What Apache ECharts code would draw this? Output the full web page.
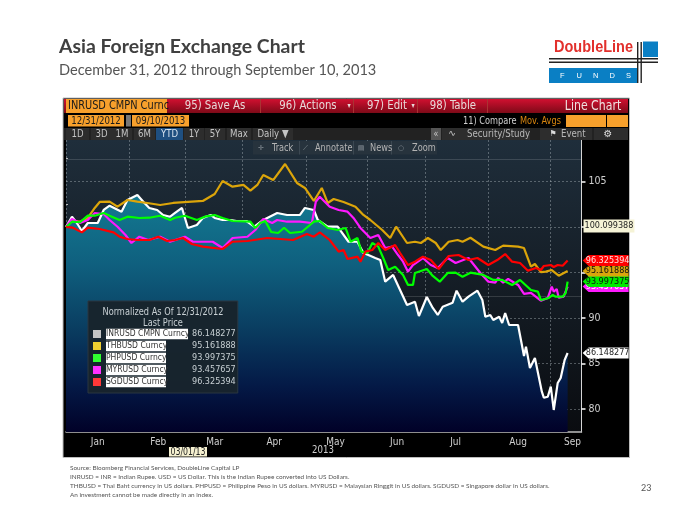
<!DOCTYPE html>
<html><head><meta charset="utf-8">
<style>html,body{margin:0;padding:0;background:#fff}#c{width:700px;height:525px}</style>
<script src="https://cdn.jsdelivr.net/npm/echarts@6/dist/echarts.min.js"></script>
</head><body><div id="c"></div>
<script>
// [days since 12/31/2012, normalized value]
const INR=[[0,100],[3,101.13],[5.5,100.44],[8,99.56],[11,100.44],[16,100.44],[19,101.87],[22,102.34],[28,101.68],[31,102.97],[36,103.52],[39,102.78],[42,102.09],[46,101.87],[49,101.32],[52.5,101.13],[55,101.54],[58.5,102.09],[61.5,99.89],[66,100.22],[69,100.99],[73,101.32],[75,100.99],[79,100.77],[83,100.77],[86,100.66],[91,100.66],[95,100.03],[99.5,100.77],[106.5,101.54],[111.5,101.32],[118,101.32],[120.5,102.09],[125,101.87],[127,100.77],[132,100.03],[137,100.03],[142.5,98.38],[147,98.38],[150,97.14],[152.5,96.92],[156,96.59],[158.5,96.37],[161,93.99],[165,94.73],[168.5,93.08],[172,91.43],[176,91.79],[178,90.22],[182,92.31],[185,91.1],[187.5,90.33],[190,91.24],[195,91.68],[197,93],[200,91.79],[203,92.34],[207.5,93],[210,91.98],[211.5,90.14],[214,90.33],[215.5,89.78],[218.5,90.14],[220,89.45],[221.5,90.55],[223.5,89.23],[228,89.23],[231,85.82],[232,86.85],[234,84.51],[236.5,85.6],[240,81.9],[241,81.24],[243,81.35],[244.5,82.45],[246,79.89],[248,82.86],[249.5,83.41],[251.5,85.38],[253,86.148277]];
const THB=[[0,100],[3,100.66],[7,100.58],[11,100.99],[14.5,102.09],[17,102.75],[22,102.78],[26,102.23],[31,102.97],[36,102.78],[41,102.64],[47.5,102.42],[54,102.64],[61.5,102.75],[69,102.86],[75,103.63],[79,105.05],[84,104.43],[89.5,104.62],[93,103.99],[96.5,104.62],[99.5,105.71],[104.5,105.16],[110.5,106.92],[116.5,104.84],[120.5,104.29],[125,102.86],[129,104.29],[132,102.64],[135,103.08],[140,102.75],[146,102.23],[150,101.32],[153.5,100.77],[159.5,99.67],[163.5,98.79],[166.5,100.03],[172,98.24],[176,98.38],[179,98.24],[182.5,98.79],[186.5,98.24],[189,97.47],[193,98.38],[197.5,98.57],[200,98.38],[204,98.82],[210.5,97.84],[216.5,97.47],[220.5,97.95],[228,97.84],[231,97.69],[234.5,95.64],[236.5,95.93],[239.5,95.05],[242,95.09],[245,95.27],[248.5,94.65],[253,95.161888]];
const PHP=[[0,100],[3,100.58],[7,100.52],[11,101.24],[14.5,101.24],[19,101.54],[22,101.24],[27,100.77],[31,101.13],[37,100.99],[42,101.02],[47.5,101.24],[52.5,100.77],[55,101.02],[60,101.24],[66,100.77],[70,101.13],[75,101.32],[79,100.99],[84,100.66],[93,100.58],[95.5,99.89],[98,100.44],[100.5,100.66],[103.5,99.45],[107,99.34],[110,99.92],[113,99.34],[119,99.48],[122,100.03],[125,100.58],[128,100.66],[132,99.89],[137,99.67],[141,99.89],[143.5,98.38],[147,98.79],[149,97.29],[152,97.14],[154.5,98.24],[157.5,97.84],[160,96.59],[162.5,95.27],[166,95.64],[170,94.73],[172.5,93.63],[175,93.63],[176,94.95],[182,95.38],[185,94.62],[188.5,93.99],[192.5,94.95],[196.5,94.98],[200,94.54],[204,94.98],[210.5,94.73],[215.5,94.18],[220,94.18],[225,93.63],[229,94.18],[234.5,93.08],[238,92.89],[239.5,91.98],[243.5,92.2],[245.5,92.53],[247,92.34],[250.5,92.34],[252,92.75],[253,93.997375]];
const MYR=[[0,100],[3,100.88],[7,100.44],[11,100.77],[14.5,101.54],[19,101.43],[22,100.77],[26,100.03],[30,99.12],[33,98.24],[37,98.93],[41.5,98.57],[47.5,98.93],[52.5,98.38],[60,98.93],[64,98.38],[69,98.38],[74,98.38],[79,97.69],[84,98.79],[91.5,98.93],[95.5,99.67],[99.5,100.88],[104,100.44],[106.5,100.77],[111.5,100.58],[118,100.58],[124,100.44],[126,102.78],[128,103.33],[133,102.23],[137.5,101.87],[142,101.68],[145,100.99],[148.5,99.89],[151,99.34],[153.5,98.79],[157.5,99.12],[161,97.69],[164.5,97.84],[167.5,96.92],[170,96.19],[172.5,95.09],[175,95.82],[180,96.59],[184,95.82],[187.5,95.49],[192.5,96.59],[196.5,96.04],[203,96.59],[209,94.95],[213,93.99],[216.5,93.88],[218,94.4],[220.5,93.88],[223,94.29],[228,93.63],[231,92.64],[234.5,92.75],[239.5,91.9],[243,92.2],[245,93.44],[246,92.89],[247.5,93.19],[248.5,92.23],[251,92.34],[253,93.457657]];
const SGD=[[0,100],[3.5,99.92],[8,99.41],[11,99.92],[17,99.78],[24,99.41],[27,98.93],[31,98.68],[36,98.57],[42,98.57],[46.5,98.93],[51,98.46],[55,98.57],[59,98.79],[63.5,98.13],[69,97.84],[79,97.58],[84,98.38],[91.5,98.46],[101.5,98.79],[108,98.68],[114.5,98.57],[121.5,99.23],[125,98.93],[128,99.41],[133,98.57],[137.5,97.29],[140,97.47],[142,96.48],[147,96.74],[148.5,96.19],[151,97.29],[154.5,97.47],[157.5,98.24],[161,97.47],[166,98.02],[168.5,97.14],[172.5,95.82],[176,96.19],[180,96.74],[184,96.37],[188,95.38],[193,96.81],[198,96.92],[203,96.37],[207.5,96.59],[213,95.82],[217.5,96.37],[221.5,97.03],[225,96.19],[229,96.04],[233,95.2],[237,95.49],[239.5,95.27],[241,95.71],[244.5,95.82],[246,95.6],[248,95.82],[250.5,95.74],[253,96.325394]];
const names=['INRUSD CMPN Curncy','THBUSD Curncy','PHPUSD Curncy','MYRUSD Curncy','SGDUSD Curncy'];
const monthTickDays=[0,32,60,89,121,152,181,213,244];
const monthLabelDays=[16,46.5,75,105,136,167,196.5,228,255.5];
const monthLabels=['Jan','Feb','Mar','Apr','May','Jun','Jul','Aug','Sep'];
const yLabelValues=[80,85,90,100.099388,105];
const yMajorTicks=[80,85,90,95,100,105];
const yMinorTicks=[82.5,87.5,92.5,97.5,102.5,107.5];

const NARROW="'Liberation Sans Narrow','DejaVu Sans Condensed','Liberation Sans',sans-serif";
const tagPath='path://M0,5.5 L6,0 L46,0 L46,11 L6,11 Z';
function mk(name,data,color,z,tagColor,tagText,mz,extra){
  const last=data[data.length-1];
  return Object.assign({
    name,type:'line',data,z,showSymbol:false,symbol:'none',smooth:false,
    lineStyle:{color,width:2.2},itemStyle:{color},animation:false,
    markPoint:{z:mz,silent:true,animation:false,symbol:tagPath,symbolSize:[46,11],symbolOffset:[38,0],
      itemStyle:{color:tagColor},
      label:{show:true,position:'inside',color:tagText,fontSize:9,fontFamily:NARROW,offset:[2,0],formatter:p=>p.value.toFixed(6)},
      data:[{coord:[last[0],last[1]],value:last[1]}]}
  },extra||{});
}
const g=[];
const rect=(x,y,w,h,fill,z)=>g.push({type:'rect',silent:true,z:z==null?1:z,shape:{x,y,width:w,height:h},style:{fill}});
const txt=(x,y,s,fill,size,o,z)=>{
  const isNarrow=!(o&&o.fontFamily);
  g.push({type:'text',silent:true,z:z==null?2:z,x,y,scaleX:isNarrow?0.87:1,style:Object.assign({text:s,fill,fontSize:size,fontFamily:NARROW,verticalAlign:'middle'},o||{})});
};
const vg=(a,b)=>({type:'linear',x:0,y:0,x2:0,y2:1,colorStops:[{offset:0,color:a},{offset:1,color:b}]});
const ct={align:'center'};
const LT='#cfcfcf';
// page titles
txt(59,47,'Asia Foreign Exchange Chart','#404040',19.4,{fontFamily:'Lato',fontWeight:'bold'});
txt(59,70,'December 31, 2012 through September 10, 2013','#555555',14.6,{fontFamily:'Lato'});
// logo
rect(643,41.5,15,15.5,'#0a7fc4');rect(549,68,88,15,'#0a7fc4');
rect(549,58,109,1.4,'#222');rect(549,61.5,109,1.4,'#222');
rect(637,42,1.4,41,'#222');rect(640.5,42,1.4,41,'#222');
g.push({type:'text',silent:true,z:2,x:554,y:47.5,scaleX:0.88,style:{text:'DoubleLine',fill:'#e2302c',fontSize:16.5,fontWeight:'bold',fontFamily:'Liberation Sans',verticalAlign:'middle'}});
['F','U','N','D','S'].forEach((c,i)=>txt(560+i*16.5,75.5,c,'#fff',7.5,{fontFamily:'Liberation Sans'}));
// footnotes
const F={fontFamily:'Lato'};
txt(70,468,'Source: Bloomberg Financial Services, DoubleLine Capital LP','#555',6.4,F);
txt(70,477,'INRUSD = INR = Indian Rupee. USD = US Dollar. This is the Indian Rupee converted into US Dollars.','#555',6.4,F);
txt(70,486,'THBUSD = Thai Baht currency in US dollars. PHPUSD = Philippine Peso in US dollars. MYRUSD = Malaysian Ringgit in US dollars. SGDUSD = Singapore dollar in US dollars.','#555',6.4,F);
txt(70,495,'An investment cannot be made directly in an index.','#555',6.4,F);
txt(641,488,'23','#555',9,F);
// terminal panel
g.push({type:'rect',silent:true,z:-1,shape:{x:63,y:98,width:566.5,height:359.5},style:{fill:'#000',stroke:'#bdbdbd',lineWidth:1}});
// toolbar row 1
rect(64,99,564,14,vg('#d01030','#7d0a18'));
rect(66,99,101,14,'#f7a02c');
txt(68,106,'INRUSD CMPN Curnc','#1a1a1a',12.5);
[260,353,417,487].forEach(x=>rect(x,99,1,14,'#a33'));
txt(215,105.5,'95) Save As','#e8d8d8',13,ct);
txt(308,105.5,'96) Actions','#e8d8d8',13,ct);
txt(349,106,'▾','#e8d8d8',8,ct);
txt(387,105.5,'97) Edit','#e8d8d8',13,ct);
txt(413,106,'▾','#e8d8d8',8,ct);
txt(453,105.5,'98) Table','#e8d8d8',13,ct);
txt(593,106,'Line Chart','#f0e0e0',14,ct);
// row 2
rect(68,115,56,11.5,'#f7a02c');rect(126,115,5,11.5,'#777');rect(132,115,57,11.5,'#f7a02c');
txt(96,121,'12/31/2012','#1a1a1a',11,ct);txt(160.5,121,'09/10/2013','#1a1a1a',11,ct);
txt(463,121,'11) Compare',LT,10.5);
txt(520,121,'Mov. Avgs','#d9860f',10.5);
rect(566,115,40,12,'#f7a02c');rect(607,115,21,12,'#f7a02c');
// row 3
rect(64,128,564,12,'#222');
[['1D',66,24],['3D',91,22],['1M',112,21],['6M',134,22],['1Y',184,21],['5Y',205,21],['Max',227,25],['Daily ▼',253,41]].forEach(b=>{
  rect(b[1],128,b[2]-1,12,'#2d2d2d');txt(b[1]+(b[2]-1)/2,134.5,b[0],'#c4c4c4',11,ct);});
rect(156,128,27,12,'#1f4f80');txt(169.5,134.5,'YTD','#d8e4f0',11,ct);
rect(431,128,10,12,'#555');txt(436,134,'«','#ccc',10,ct);
rect(442,128,88,12,'#2d2d2d');rect(540,128,52,12,'#2d2d2d');rect(594,128,34,12,'#2d2d2d');
txt(452,134,'∿',LT,9,Object.assign({fontFamily:'DejaVu Sans'},ct));
txt(467,134.5,'Security/Study','#b8b8b8',11);
txt(553,134,'⚑','#ddd',8,Object.assign({fontFamily:'DejaVu Sans'},ct));
txt(561,134.5,'Event','#b8b8b8',11);
txt(608,134,'⚙','#ddd',10,Object.assign({fontFamily:'DejaVu Sans'},ct));
// floating tool strip over the plot
rect(253,141,184,13.5,'#27333d',50);
[[299,1],[353,1],[391,1]].forEach(s=>rect(s[0],141,1,13.5,'#3c4852',51));
const ic=Object.assign({fontFamily:'DejaVu Sans'},ct);
txt(261,148,'✛','#8a9299',7,ic,52);txt(272,148,'Track','#b4b4b4',10.5,{},52);
txt(305,148,'⟋','#8a9299',7,ic,52);txt(315,148,'Annotate','#b4b4b4',10.5,{},52);
txt(361,148,'▤','#8a9299',7,ic,52);txt(370,148,'News','#b4b4b4',10.5,{},52);
txt(401,148,'○','#8a9299',7,ic,52);txt(412,148,'Zoom','#b4b4b4',10.5,{},52);
// legend heading, sits on the legend box
txt(163,312,'Normalized As Of 12/31/2012','#c8d0d4',10.5,ct,60);
txt(163,323,'Last Price','#c8d0d4',10.5,ct,60);
// date and year under the axis
rect(169,447,38,9.5,'#f5f0d0',3);
txt(188,452,'03/01/13','#222',10,ct,4);
txt(323,450.5,'2013','#cfcfcf',11,ct);

const legendVals={};[INR,THB,PHP,MYR,SGD].forEach((a,i)=>legendVals[names[i]]=a[a.length-1][1].toFixed(6));
const gridSpot={left:66,right:118.5,top:140,bottom:93};
const option={
  animation:false,backgroundColor:'transparent',textStyle:{fontFamily:NARROW},
  grid:[Object.assign({show:true,borderWidth:0,backgroundColor:vg('#1f2e3b','#0a0c10')},gridSpot),Object.assign({show:false},gridSpot)],
  xAxis:[{type:'value',min:0,max:260,
    axisLine:{show:true,onZero:false,lineStyle:{color:'#bdbdbd',width:1.5}},
    axisTick:{show:true,inside:true,length:3,lineStyle:{color:'#cfcfcf'},customValues:monthTickDays},
    axisLabel:{color:'#cfcfcf',fontSize:10,margin:5,hideOverlap:false,fontFamily:NARROW,
      customValues:monthLabelDays,
      formatter:v=>monthLabels[monthLabelDays.indexOf(v)]},
    splitLine:{show:true,lineStyle:{color:'rgba(190,200,205,.38)',type:[2,2],width:1}}},
    {type:'value',gridIndex:1,min:0,max:260,show:false}],
  yAxis:[{type:'value',position:'right',min:77.47,max:109.56,
      axisLine:{show:true,onZero:false,lineStyle:{color:'#d5d5d5',width:1}},
      axisTick:{show:true,length:4,lineStyle:{color:'#fff',width:1.5},customValues:yMajorTicks},
      axisLabel:{margin:2,fontSize:10,fontFamily:NARROW,color:'#cfcfcf',customValues:yLabelValues,
        formatter:v=>v===100.099388?'{tag|100.099388}':'{n|'+v+'}',
        rich:{n:{color:'#cfcfcf',fontSize:10.5,padding:[0,0,0,5]},
              tag:{color:'#222',fontSize:9,backgroundColor:'#f5f3d6',padding:[2,1,2,1]}}},
      splitLine:{show:true,lineStyle:{color:'rgba(190,200,205,.38)',type:[2,2],width:1}}},
    {type:'value',gridIndex:1,position:'right',min:77.47,max:109.56,
      axisLine:{show:false},axisLabel:{show:false},splitLine:{show:false},
      axisTick:{show:true,length:2,lineStyle:{color:'#bbb'},customValues:yMinorTicks}}],
  legend:{left:88,top:301,orient:'vertical',padding:[27,2,5,5],itemGap:0,itemWidth:8,itemHeight:8,selectedMode:false,
    backgroundColor:'rgba(24,36,44,.97)',borderColor:'#2a3740',borderWidth:1,
    data:[{name:names[0],icon:'rect',itemStyle:{color:'#c4c4c4'}},{name:names[1],icon:'rect',itemStyle:{color:'#f0cf30'}},
      {name:names[2],icon:'rect',itemStyle:{color:'#30ff30'}},{name:names[3],icon:'rect',itemStyle:{color:'#ff30ff'}},
      {name:names[4],icon:'rect',itemStyle:{color:'#ff3838'}}],
    formatter:n=>(n===names[0]?'{w|'+n+'}{s0|}':'{a|'+n+'}{s|}')+'{b|'+legendVals[n]+'}',
    textStyle:{rich:{
      w:{width:82,height:10.5,lineHeight:10.5,backgroundColor:'#fff',color:'#333',fontSize:8.5,fontFamily:NARROW},
      a:{width:60,height:10.5,lineHeight:10.5,backgroundColor:'#fff',color:'#333',fontSize:8.5,fontFamily:NARROW},
      s0:{width:4},s:{width:26},
      b:{color:'#c8d0d4',fontSize:9,lineHeight:10.5,fontFamily:NARROW}}}},
  graphic:{elements:g},
  series:[
    mk(names[0],INR,'#ffffff',2,'#ffffff','#222',13,{
      areaStyle:{origin:'start',opacity:1,color:{type:'linear',x:0,y:0,x2:0,y2:1,colorStops:[
        {offset:0,color:'#137a92'},{offset:.3,color:'#0f5f7e'},{offset:.55,color:'#0a3f62'},{offset:.8,color:'#041a47'},{offset:1,color:'#010128'}]}},
      markLine:{silent:true,symbol:'none',z:1,animation:false,label:{show:false},
        lineStyle:{color:'rgba(255,255,255,.14)',type:'solid',width:1},data:[{yAxis:107.4},{yAxis:92.4}]}}),
    mk(names[1],THB,'#dca50a',3,'#d9a50c','#111',12),
    mk(names[3],MYR,'#ff19ff',4,'#ff19ff','#fff',10),
    mk(names[2],PHP,'#00ff00',5,'#00e800','#111',11),
    mk(names[4],SGD,'#ff0000',6,'#ff0000','#ffe0e0',14)
  ]
};
echarts.init(document.getElementById('c'),null,{renderer:'canvas'}).setOption(option);
</script></body></html>
